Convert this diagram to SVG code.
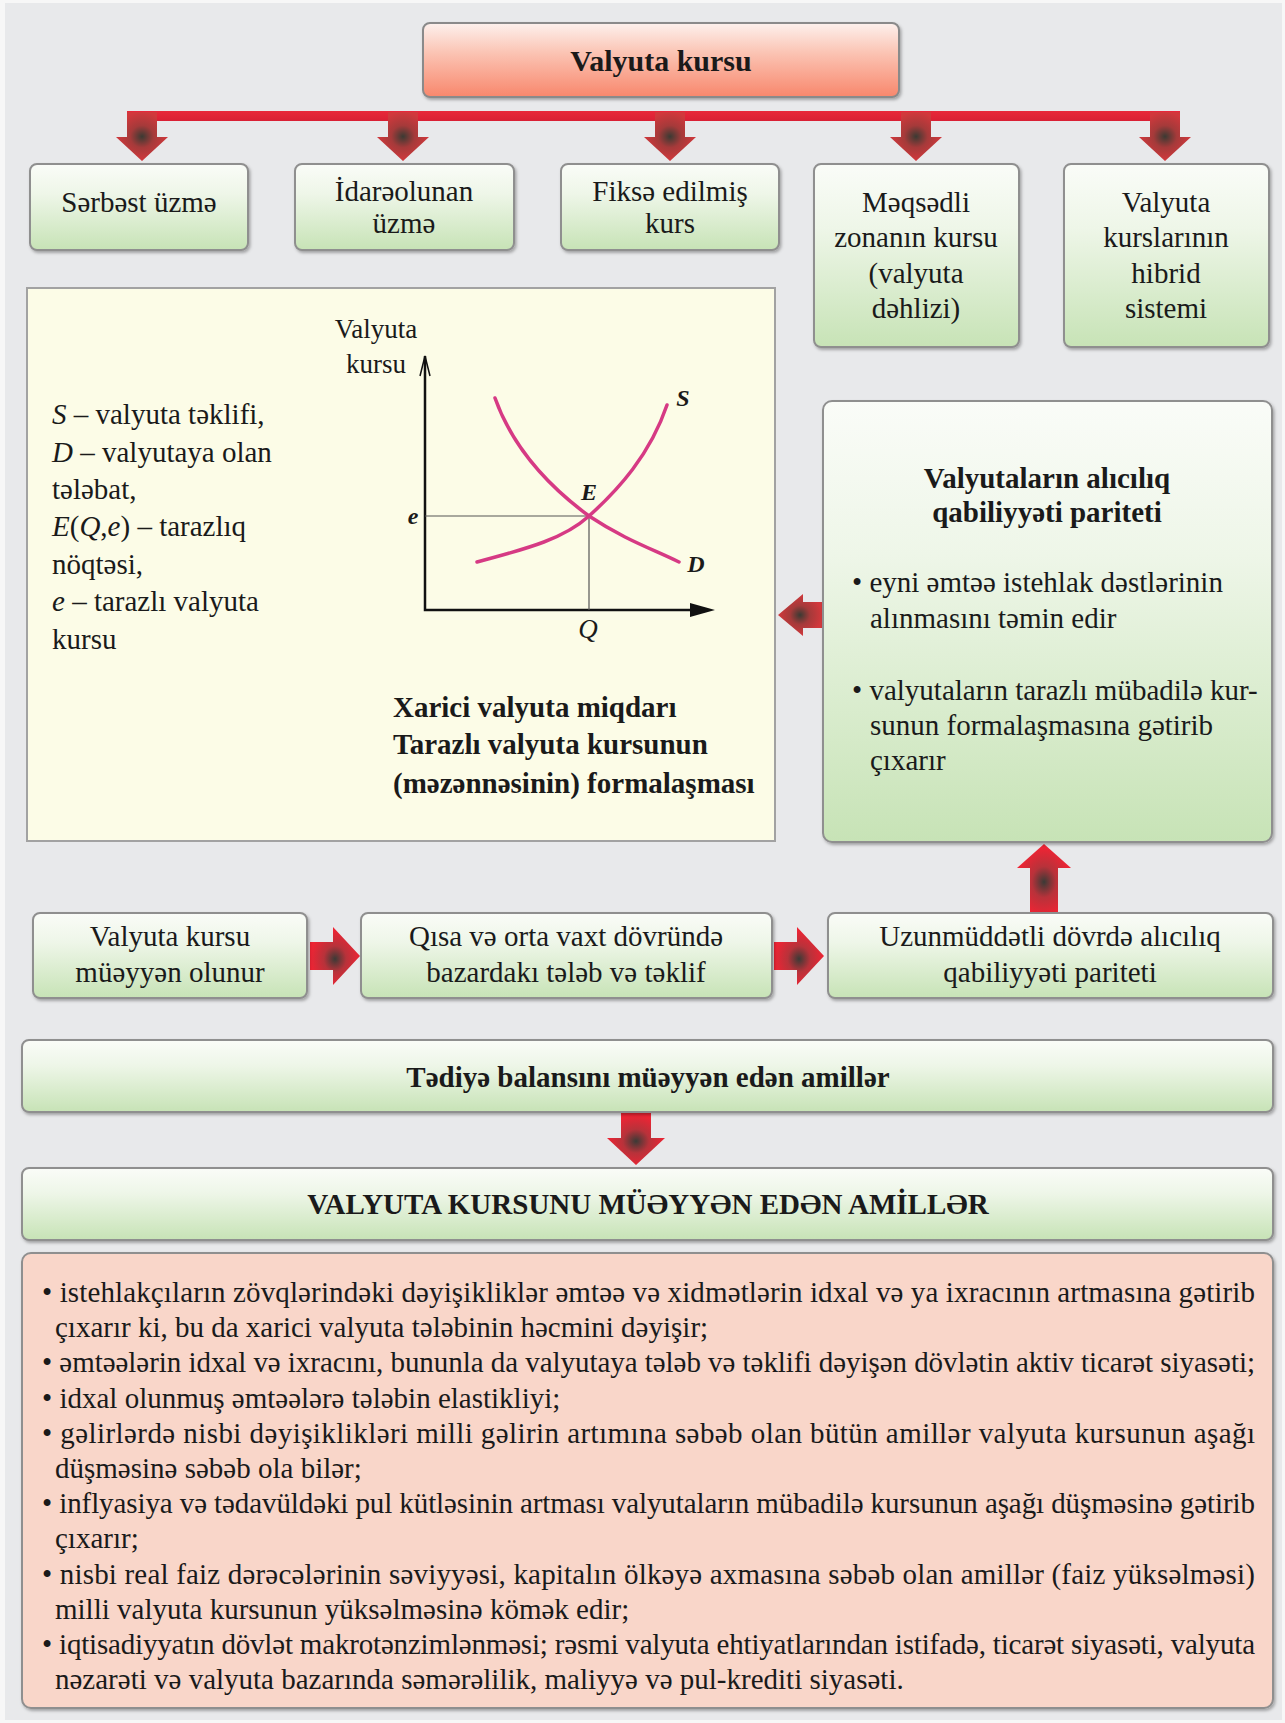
<svg xmlns="http://www.w3.org/2000/svg" width="1285" height="1723" viewBox="0 0 1285 1723">
<defs>
<linearGradient id="gGreen" x1="0" y1="0" x2="0" y2="1">
<stop offset="0" stop-color="#fafcf8"/>
<stop offset="0.35" stop-color="#eef6e8"/>
<stop offset="1" stop-color="#c7e3b6"/>
</linearGradient>
<linearGradient id="gRed" x1="0" y1="0" x2="0" y2="1">
<stop offset="0" stop-color="#fdf1ed"/>
<stop offset="0.4" stop-color="#fbc4b4"/>
<stop offset="1" stop-color="#f8876c"/>
</linearGradient>
<linearGradient id="gBar" x1="0" y1="0" x2="0" y2="1">
<stop offset="0" stop-color="#e8283a"/>
<stop offset="1" stop-color="#d92034"/>
</linearGradient>
<radialGradient id="gArrow" cx="0.5" cy="0.5" r="0.5">
<stop offset="0" stop-color="#3b3a33"/>
<stop offset="0.45" stop-color="#a53a3a"/>
<stop offset="1" stop-color="#d2383c"/>
</radialGradient>
<radialGradient id="gArrowB" cx="0.5" cy="0.55" r="0.5">
<stop offset="0" stop-color="#3b3a36"/>
<stop offset="0.45" stop-color="#b8323a"/>
<stop offset="1" stop-color="#ee2434"/>
</radialGradient>
<filter id="sh" x="-5%" y="-5%" width="110%" height="115%">
<feDropShadow dx="1.5" dy="2" stdDeviation="1.5" flood-color="#000" flood-opacity="0.3"/>
</filter>
<style>
text{font-family:"Liberation Serif","Times New Roman",serif;fill:#1a1a1a;}
.t{font-size:29px;text-anchor:middle;}
.b{font-size:29px;font-weight:bold;text-anchor:middle;}
.l{font-size:29px;}
.cap{font-size:29px;font-weight:bold;}
.li{font-size:29px;}
.box{fill:url(#gGreen);stroke:#8f8f8f;stroke-width:2;filter:url(#sh);}
.arr{fill:url(#gArrow);}
.arrB{fill:url(#gArrowB);}
.curve{fill:none;stroke:#d63a84;stroke-width:3.5;stroke-linecap:round;}
.ax{stroke:#111;stroke-width:2.5;fill:none;}
.thin{stroke:#555;stroke-width:1.2;fill:none;}
.lab{font-weight:bold;font-style:italic;font-size:24px;text-anchor:middle;}
</style>
</defs>
<rect x="0" y="0" width="1285" height="1723" fill="#f7f7f7"/>
<rect x="5" y="3" width="1277" height="1717" fill="#e8e9eb"/>

<g id="connectors">
<rect x="127" y="111" width="1053" height="10" fill="url(#gBar)"/>
<path class="arr" d="M127,112 H157 V137 H168 L142,161 L116,137 H127 Z"/>
<path class="arr" d="M388,112 H418 V137 H429 L403,161 L377,137 H388 Z"/>
<path class="arr" d="M655,112 H685 V137 H696 L670,161 L644,137 H655 Z"/>
<path class="arr" d="M901,112 H931 V137 H942 L916,161 L890,137 H901 Z"/>
<path class="arr" d="M1150,112 H1180 V137 H1191 L1165,161 L1139,137 H1150 Z"/>
<path class="arr" d="M778,615 L803,594 V602 H822 V628 H803 V636 Z"/>
<path class="arrB" d="M1044,844 L1071,868 H1058 V913 H1030 V868 H1017 Z"/>
<path class="arrB" d="M310,942 H333 V927 L360,956 L333,985 V970 H310 Z"/>
<path class="arrB" d="M774,942 H797 V927 L824,956 L797,985 V970 H774 Z"/>
<path class="arrB" d="M621,1112 H651 V1138 H665 L636,1165 L607,1138 H621 Z"/>
</g>

<g id="top">
<rect x="423" y="23" width="476" height="74" rx="7" fill="url(#gRed)" stroke="#8a8a8a" stroke-width="2" filter="url(#sh)"/>
<text class="b" x="661" y="71" style="font-size:30px">Valyuta kursu</text>
</g>

<g id="n1"><rect class="box" x="30" y="164" width="218" height="86" rx="7"/>
<text class="t" x="139" y="212">Sərbəst üzmə</text></g>
<g id="n2"><rect class="box" x="295" y="164" width="219" height="86" rx="7"/>
<text class="t" x="404" y="201">İdarəolunan</text><text class="t" x="404" y="233">üzmə</text></g>
<g id="n3"><rect class="box" x="561" y="164" width="218" height="86" rx="7"/>
<text class="t" x="670" y="201">Fiksə edilmiş</text><text class="t" x="670" y="233">kurs</text></g>
<g id="n4"><rect class="box" x="814" y="164" width="205" height="183" rx="7"/>
<text class="t" x="916" y="212">Məqsədli</text><text class="t" x="916" y="247">zonanın kursu</text><text class="t" x="916" y="283">(valyuta</text><text class="t" x="916" y="318">dəhlizi)</text></g>
<g id="n5"><rect class="box" x="1064" y="164" width="205" height="183" rx="7"/>
<text class="t" x="1166" y="212">Valyuta</text><text class="t" x="1166" y="247">kurslarının</text><text class="t" x="1166" y="283">hibrid</text><text class="t" x="1166" y="318">sistemi</text></g>

<g id="chart">
<rect x="27" y="288" width="748" height="553" fill="#fcfce7" stroke="#a2a2a2" stroke-width="2"/>
<text class="l" x="52" y="424"><tspan font-style="italic">S</tspan> – valyuta təklifi,</text>
<text class="l" x="52" y="462"><tspan font-style="italic">D</tspan> – valyutaya olan</text>
<text class="l" x="52" y="499">tələbat,</text>
<text class="l" x="52" y="536"><tspan font-style="italic">E</tspan>(<tspan font-style="italic">Q</tspan>,<tspan font-style="italic">e</tspan>) – tarazlıq</text>
<text class="l" x="52" y="574">nöqtəsi,</text>
<text class="l" x="52" y="611"><tspan font-style="italic">e</tspan> – tarazlı valyuta</text>
<text class="l" x="52" y="649">kursu</text>
<text class="t" x="376" y="338" style="font-size:27px">Valyuta</text>
<text class="t" x="376" y="373" style="font-size:27px">kursu</text>
<path class="ax" d="M425,356 V610 H698"/>
<path d="M690,603 L715,610 L690,617 Z" fill="#111"/>
<path d="M420,376 L425,356 L430,376" fill="none" stroke="#111" stroke-width="1.5"/>
<path class="thin" d="M425,516 H589 V610"/>
<path class="curve" d="M477,562 C530,548 565,538 589,516 C618,490 650,455 667,405"/>
<path class="curve" d="M495,398 C510,440 540,480 589,516 C625,540 655,550 679,562"/>
<text class="lab" x="413" y="524">e</text>
<text class="lab" x="589" y="500">E</text>
<text class="lab" x="683" y="406">S</text>
<text class="lab" x="696" y="572">D</text>
<text x="588" y="638" style="font-size:27px;font-style:italic;text-anchor:middle">Q</text>
<text class="cap" x="393" y="717">Xarici valyuta miqdarı</text>
<text class="cap" x="393" y="754">Tarazlı valyuta kursunun</text>
<text class="cap" x="393" y="793">(məzənnəsinin) formalaşması</text>
</g>

<g id="ppp">
<rect class="box" x="823" y="401" width="449" height="441" rx="9"/>
<text class="b" x="1047" y="488">Valyutaların alıcılıq</text>
<text class="b" x="1047" y="522">qabiliyyəti pariteti</text>
<text class="l" x="852" y="592">• eyni əmtəə istehlak dəstlərinin</text>
<text class="l" x="870" y="628">alınmasını təmin edir</text>
<text class="l" x="852" y="700">• valyutaların tarazlı mübadilə kur-</text>
<text class="l" x="870" y="735">sunun formalaşmasına gətirib</text>
<text class="l" x="870" y="770">çıxarır</text>
</g>

<g id="r1"><rect class="box" x="33" y="913" width="274" height="85" rx="7"/>
<text class="t" x="170" y="946">Valyuta kursu</text><text class="t" x="170" y="982">müəyyən olunur</text></g>
<g id="r2"><rect class="box" x="361" y="913" width="411" height="85" rx="7"/>
<text class="t" x="566" y="946">Qısa və orta vaxt dövründə</text><text class="t" x="566" y="982">bazardakı tələb və təklif</text></g>
<g id="r3"><rect class="box" x="828" y="913" width="445" height="85" rx="7"/>
<text class="t" x="1050" y="946">Uzunmüddətli dövrdə alıcılıq</text><text class="t" x="1050" y="982">qabiliyyəti pariteti</text></g>

<g id="tediye"><rect class="box" x="22" y="1040" width="1251" height="72" rx="7"/>
<text class="b" x="648" y="1087">Tədiyə balansını müəyyən edən amillər</text></g>
<g id="amiller"><rect class="box" x="22" y="1168" width="1251" height="72" rx="7"/>
<text class="b" x="648" y="1214">VALYUTA KURSUNU MÜƏYYƏN EDƏN AMİLLƏR</text></g>

<g id="factors">
<rect x="22" y="1253" width="1251" height="455" rx="9" fill="#f9d6c9" stroke="#8f8f8f" stroke-width="2" filter="url(#sh)"/>
<text class="li" x="42" y="1302" textLength="1213" lengthAdjust="spacing">• istehlakçıların zövqlərindəki dəyişikliklər əmtəə və xidmətlərin idxal və ya ixracının artmasına gətirib</text>
<text class="li" x="55" y="1337">çıxarır ki, bu da xarici valyuta tələbinin həcmini dəyişir;</text>
<text class="li" x="42" y="1372" textLength="1213" lengthAdjust="spacing">• əmtəələrin idxal və ixracını, bununla da valyutaya tələb və təklifi dəyişən dövlətin aktiv ticarət siyasəti;</text>
<text class="li" x="42" y="1408">• idxal olunmuş əmtəələrə tələbin elastikliyi;</text>
<text class="li" x="42" y="1443" textLength="1213" lengthAdjust="spacing">• gəlirlərdə nisbi dəyişiklikləri milli gəlirin artımına səbəb olan bütün amillər valyuta kursunun aşağı</text>
<text class="li" x="55" y="1478">düşməsinə səbəb ola bilər;</text>
<text class="li" x="42" y="1513" textLength="1213" lengthAdjust="spacing">• inflyasiya və tədavüldəki pul kütləsinin artması valyutaların mübadilə kursunun aşağı düşməsinə gətirib</text>
<text class="li" x="55" y="1548">çıxarır;</text>
<text class="li" x="42" y="1584" textLength="1213" lengthAdjust="spacing">• nisbi real faiz dərəcələrinin səviyyəsi, kapitalın ölkəyə axmasına səbəb olan amillər (faiz yüksəlməsi)</text>
<text class="li" x="55" y="1619">milli valyuta kursunun yüksəlməsinə kömək edir;</text>
<text class="li" x="42" y="1654" textLength="1213" lengthAdjust="spacing">• iqtisadiyyatın dövlət makrotənzimlənməsi; rəsmi valyuta ehtiyatlarından istifadə, ticarət siyasəti, valyuta</text>
<text class="li" x="55" y="1689">nəzarəti və valyuta bazarında səmərəlilik, maliyyə və pul-krediti siyasəti.</text>
</g>
</svg>
